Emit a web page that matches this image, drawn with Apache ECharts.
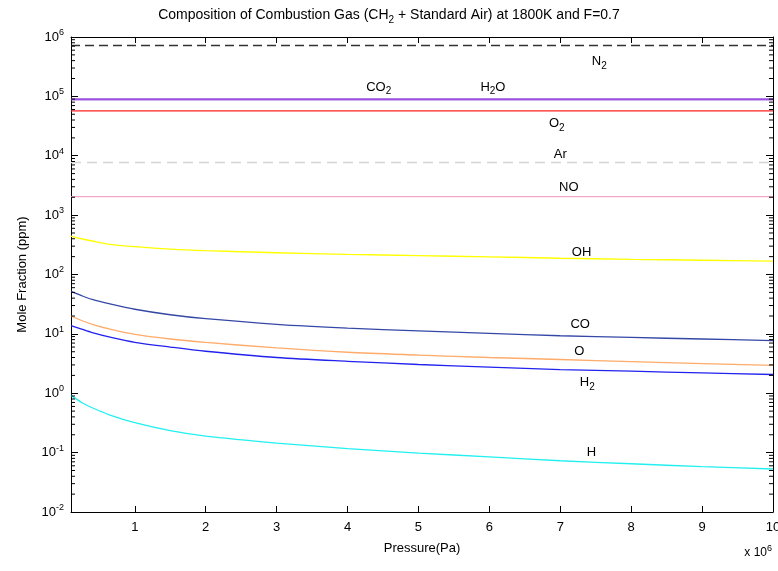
<!DOCTYPE html>
<html>
<head>
<meta charset="utf-8">
<title>Composition of Combustion Gas</title>
<script src="https://cdn.jsdelivr.net/npm/echarts@6/dist/echarts.min.js"></script>
<style>
  html, body { margin: 0; padding: 0; background: #fff; }
  #chart { width: 778px; height: 571px; }
</style>
</head>
<body>
<div id="chart"></div>
<script>
// pressure in units of 1e6 Pa
const xs = [0.1, 0.25, 0.4, 0.65, 1, 1.5, 2, 3, 4, 5, 6, 7, 8, 9, 10];
const xEnds = [0.1, 10];

// mole fraction, ppm
const n2 = [7.2e5, 7.2e5];
const co2 = [8.9e4, 8.9e4];
const h2o = [8.9e4, 8.9e4];
const o2 = [5.7e4, 5.7e4];
const ar = [7.7e3, 7.7e3];
const no = [2.05e3, 2.05e3];
const oh = [444, 400, 366, 322, 295, 268, 252, 232, 218, 208, 198, 188, 180, 174, 168];
const co = [52, 44, 38, 32, 26, 21, 18, 14.5, 12.5, 11.2, 10.2, 9.3, 8.7, 8.2, 7.7];
const o = [20, 16.8, 14.5, 12, 9.8, 8.2, 7.2, 5.8, 4.9, 4.4, 4.0, 3.7, 3.4, 3.15, 2.95];
const h2 = [13.8, 12, 10.5, 8.8, 7.2, 6.0, 5.1, 4.0, 3.45, 3.05, 2.75, 2.5, 2.35, 2.2, 2.07];
const h = [0.92, 0.7, 0.57, 0.43, 0.32, 0.235, 0.19, 0.145, 0.117, 0.098, 0.085, 0.073, 0.065, 0.058, 0.053];

// ticks
const xTicks = [1, 2, 3, 4, 5, 6, 7, 8, 9, 10];
const yTicks = [0.01, 0.1, 1, 10, 100, 1e3, 1e4, 1e5, 1e6];

// in-plot species labels (data coordinates)
const labelText = ['{t|N}{s|2}', '{t|CO}{s|2}', '{t|H}{s|2}{t|O}', '{t|O}{s|2}', '{t|Ar}', '{t|NO}', '{t|OH}', '{t|CO}', '{t|O}', '{t|H}{s|2}', '{t|H}'];
const labelX = [7.55, 4.44, 6.05, 6.95, 7.0, 7.12, 7.3, 7.28, 7.27, 7.38, 7.44];
const labelY = [3.9e5, 1.43e5, 1.43e5, 3.5e4, 1.06e4, 2.95e3, 236, 14.4, 5.05, 1.51, 0.1];

const font = 'Liberation Sans';

function pairs(x, y) {
    return y.map(function (v, i) { return [x[i], v]; });
}

// minor tick values for the log axis
let minorVals = [];
for (let k = -2; k < 6; k++) {
    for (let m = 2; m <= 9; m++) {
        minorVals.push([0.1, m * Math.pow(10, k)]);
    }
}

function line(name, x, y, color, type, width) {
    return {
        name: name,
        type: 'line',
        data: pairs(x, y),
        showSymbol: false,
        smooth: x.length > 2 ? 0.3 : false,
        lineStyle: {color: color, width: width || 1.2, type: type || 'solid'},
        silent: true,
        z: 3
    };
}

const supRich = {
    b: {fontSize: 13, fontFamily: font, color: '#000'},
    e: {fontSize: 9, fontFamily: font, color: '#000', padding: [0, 0, 9, 0]}
};

let chart = echarts.init(document.getElementById('chart'));

let option = {
    animation: false,
    backgroundColor: '#fff',
    title: {
        text: 'Composition of Combustion Gas (CH{s|2} + Standard Air) at 1800K and F=0.7',
        left: 'center',
        top: 1,
        textStyle: {
            fontSize: 14, fontWeight: 'normal', fontFamily: font, color: '#000',
            rich: {s: {fontSize: 10, fontFamily: font, color: '#000', padding: [9, 0, 0, 0]}}
        }
    },
    grid: {left: 71, right: 5, top: 37, bottom: 59, outerBoundsMode: 'none'},
    xAxis: [{
        type: 'value',
        min: 0.1,
        max: 10,
        name: 'Pressure(Pa)',
        nameLocation: 'middle',
        nameGap: 30,
        nameTextStyle: {fontSize: 13, fontFamily: font, color: '#000'},
        axisLine: {lineStyle: {color: '#000', width: 1}},
        axisTick: {inside: true, length: 6, customValues: xTicks, lineStyle: {color: '#000'}},
        axisLabel: {customValues: xTicks, fontSize: 13, fontFamily: font, color: '#000', margin: 9},
        splitLine: {show: false}
    }, {
        type: 'value',
        position: 'top',
        min: 0.1,
        max: 10,
        axisLine: {lineStyle: {color: '#000', width: 1}},
        axisTick: {inside: true, length: 6, customValues: xTicks, lineStyle: {color: '#000'}},
        axisLabel: {show: false},
        splitLine: {show: false}
    }],
    yAxis: [{
        type: 'log',
        logBase: 10,
        min: 0.01,
        max: 1e6,
        name: 'Mole Fraction (ppm)',
        nameLocation: 'middle',
        nameGap: 42,
        nameTextStyle: {fontSize: 13, fontFamily: font, color: '#000'},
        axisLine: {lineStyle: {color: '#000', width: 1}},
        axisTick: {inside: true, length: 7, customValues: yTicks, lineStyle: {color: '#000'}},
        axisLabel: {
            customValues: yTicks,
            margin: 7,
            formatter: function (v) {
                return '{b|10}{e|' + Math.round(Math.log10(v)) + '}';
            },
            rich: supRich
        },
        splitLine: {show: false}
    }, {
        type: 'log',
        logBase: 10,
        position: 'right',
        min: 0.01,
        max: 1e6,
        axisLine: {lineStyle: {color: '#000', width: 1}},
        axisTick: {inside: true, length: 7, customValues: yTicks, lineStyle: {color: '#000'}},
        axisLabel: {show: false},
        splitLine: {show: false}
    }],
    series: [
        line('N2', xEnds, n2, '#333333', [9, 5], 1.6),
        line('CO2', xEnds, co2, '#9a50dd', 'solid', 1.6),
        line('H2O', xEnds, h2o, '#9a50dd', 'solid', 1.6),
        line('O2', xEnds, o2, '#ff2020', 'solid', 1.4),
        line('Ar', xEnds, ar, '#d4d4d4', [10, 6], 1.6),
        line('NO', xEnds, no, '#f4a6c8', 'solid', 1.4),
        line('OH', xs, oh, '#ffff00', 'solid', 1.4),
        line('CO', xs, co, '#3548a6', 'solid', 1.3),
        line('O', xs, o, '#ffab6a', 'solid', 1.3),
        line('H2', xs, h2, '#2222ee', 'solid', 1.3),
        line('H', xs, h, '#22f0f0', 'solid', 1.3),
        {
            name: 'minorTicks',
            type: 'custom',
            silent: true,
            clip: false,
            data: minorVals,
            encode: {x: 0, y: 1},
            renderItem: function (params, api) {
                let y = api.coord([0.1, api.value(1)])[1];
                let cs = params.coordSys;
                let st = {stroke: '#000', lineWidth: 1};
                return {
                    type: 'group',
                    children: [
                        {type: 'line', shape: {x1: cs.x, y1: y, x2: cs.x + 4, y2: y}, style: st},
                        {type: 'line', shape: {x1: cs.x + cs.width - 4, y1: y, x2: cs.x + cs.width, y2: y}, style: st}
                    ]
                };
            },
            z: 4
        }
    ]
};

chart.setOption(option);

// place the species labels through the axes
let labelRich = {
    t: {fontSize: 13, fontFamily: font, color: '#000'},
    s: {fontSize: 10, fontFamily: font, color: '#000', padding: [9, 0, 0, 0]}
};
let graphics = labelText.map(function (txt, i) {
    let p = chart.convertToPixel({xAxisIndex: 0, yAxisIndex: 0}, [labelX[i], labelY[i]]);
    return {
        type: 'text',
        x: p[0],
        y: p[1],
        z: 10,
        style: {text: txt, rich: labelRich, align: 'center', verticalAlign: 'middle'}
    };
});
graphics.push({
    type: 'text',
    right: 6,
    top: 544,
    z: 10,
    style: {
        text: '{b|x 10}{e|6}',
        rich: {
            b: {fontSize: 12, fontFamily: font, color: '#000'},
            e: {fontSize: 9, fontFamily: font, color: '#000', padding: [0, 0, 9, 0]}
        }
    }
});
chart.setOption({graphic: graphics});
</script>
</body>
</html>
